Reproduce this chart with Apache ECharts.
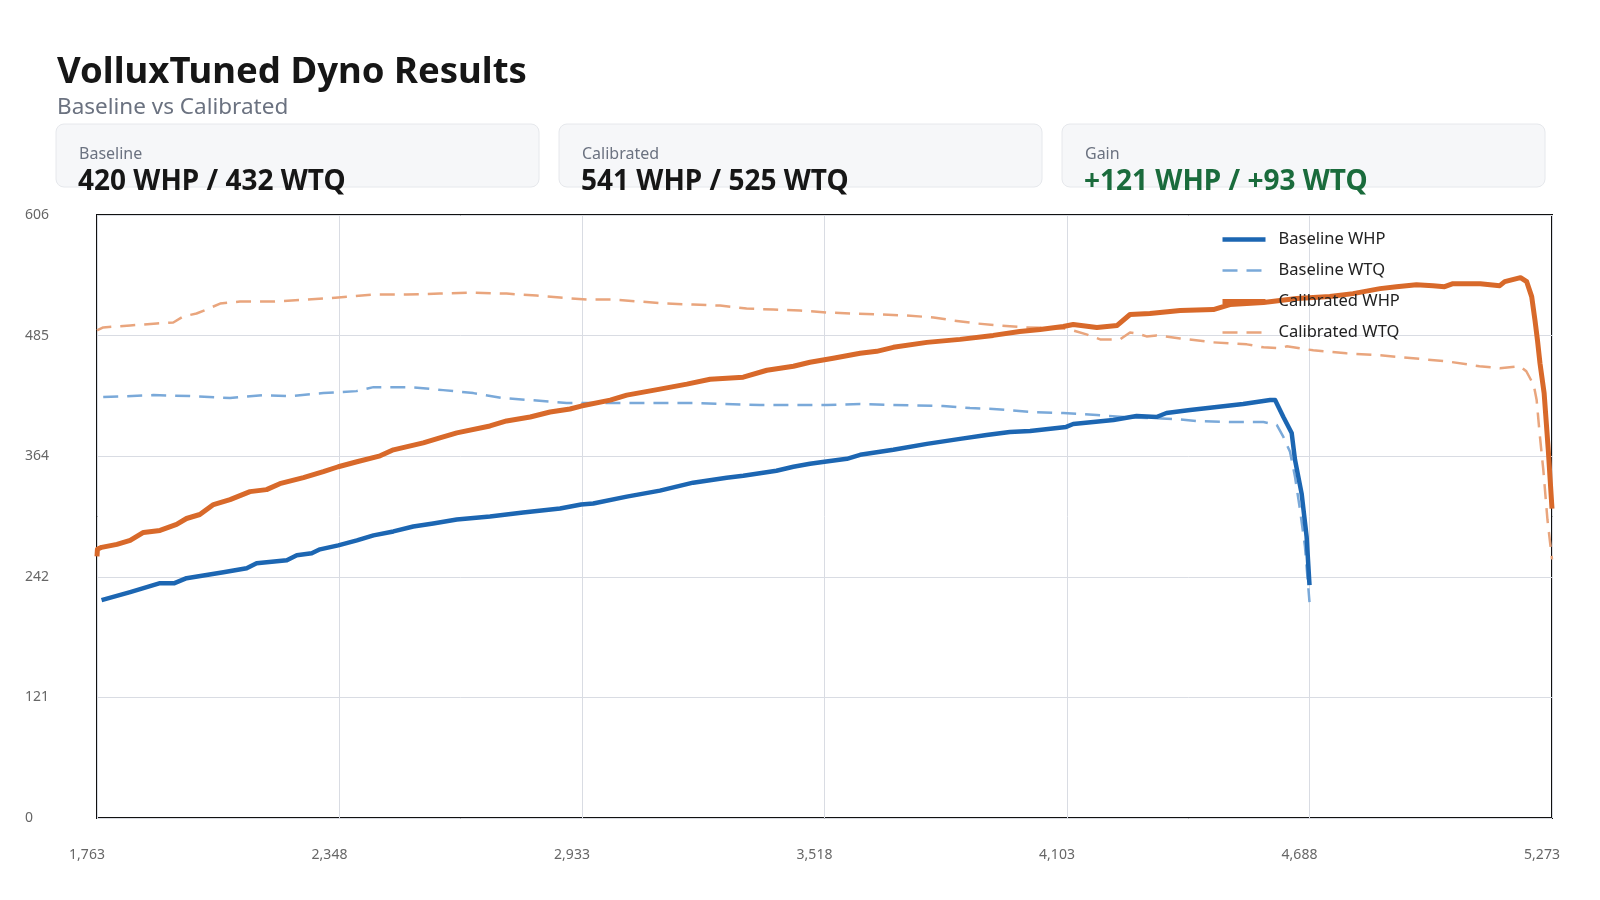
<!DOCTYPE html>
<html style="height: 100%">
    <head>
        <meta charset="utf-8">
    </head>
    <body style="height: 100%; margin: 0; background: #fff;">
        <div id="container" style="width: 1600px; height: 900px;"></div>
        <script src="https://cdn.jsdelivr.net/npm/echarts@6.0.0/dist/echarts.min.js"></script>
        <script>
        // dyno samples (rpm -> value)
        var baseWhpRpm = [1774, 1843, 1915, 1950, 1979, 2068, 2124, 2148, 2221, 2245, 2281, 2301, 2345, 2390, 2430, 2478, 2526, 2574, 2631, 2711, 2791, 2880, 2931, 2960, 3041, 3121, 3201, 3282, 3322, 3402, 3443, 3483, 3518, 3572, 3604, 3684, 3765, 3845, 3909, 3965, 4014, 4101, 4118, 4215, 4271, 4319, 4343, 4400, 4464, 4528, 4593, 4605, 4625, 4645, 4653, 4669, 4681, 4688];
        var baseWhp = [219, 227, 236, 236, 241, 247, 251, 256, 259, 264, 266, 270, 274, 279, 284, 288, 293, 296, 300, 303, 307, 311, 315, 316, 323, 329, 337, 342, 344, 349, 353, 356, 358, 361, 365, 370, 376, 381, 385, 388, 389, 393, 396, 400, 404, 403, 407, 410, 413, 416, 420, 420, 403, 387, 360, 326, 283, 234];

        var baseWtqRpm = [1778, 1899, 1987, 2084, 2164, 2229, 2309, 2389, 2430, 2510, 2550, 2598, 2671, 2743, 2808, 2896, 3041, 3201, 3362, 3524, 3604, 3684, 3804, 3869, 3925, 4022, 4094, 4175, 4239, 4295, 4360, 4416, 4496, 4577, 4609, 4625, 4641, 4653, 4665, 4677, 4688];
        var baseWtq = [423, 425, 424, 422, 425, 424, 427, 429, 433, 433, 432, 430, 427, 422, 420, 417, 417, 417, 415, 415, 416, 415, 414, 412, 411, 408, 407, 405, 403, 402, 401, 399, 398, 398, 395, 383, 368, 343, 310, 273, 217];

        var calWhpRpm = [1763, 1764, 1774, 1811, 1843, 1875, 1915, 1955, 1979, 2011, 2044, 2084, 2132, 2172, 2204, 2261, 2309, 2345, 2390, 2446, 2478, 2550, 2590, 2631, 2711, 2751, 2808, 2856, 2904, 2931, 3001, 3041, 3121, 3186, 3242, 3322, 3379, 3443, 3483, 3539, 3604, 3644, 3684, 3765, 3845, 3925, 3989, 4038, 4094, 4118, 4175, 4224, 4255, 4303, 4376, 4456, 4496, 4577, 4657, 4737, 4793, 4858, 4898, 4946, 4986, 5014, 5034, 5100, 5147, 5159, 5197, 5212, 5224, 5232, 5238, 5244, 5254, 5264, 5273];
        var calWhp = [263, 270, 272, 275, 279, 287, 289, 295, 301, 305, 315, 320, 328, 330, 336, 342, 348, 353, 358, 364, 370, 377, 382, 387, 394, 399, 403, 408, 411, 414, 420, 425, 431, 436, 441, 443, 450, 454, 458, 462, 467, 469, 473, 478, 481, 485, 489, 491, 494, 496, 493, 495, 506, 507, 510, 511, 516, 518, 522, 524, 527, 532, 534, 536, 535, 534, 537, 537, 535, 539, 543, 539, 524, 500, 480, 457, 427, 370, 311];

        var calWtqRpm = [1763, 1778, 1843, 1907, 1947, 1971, 2003, 2027, 2060, 2108, 2188, 2269, 2345, 2430, 2510, 2590, 2671, 2751, 2823, 2880, 2944, 3008, 3073, 3137, 3201, 3266, 3330, 3394, 3459, 3524, 3588, 3652, 3717, 3781, 3829, 3885, 3941, 4005, 4094, 4118, 4150, 4183, 4231, 4255, 4271, 4295, 4319, 4376, 4456, 4537, 4577, 4617, 4633, 4697, 4777, 4858, 4938, 5018, 5098, 5147, 5196, 5211, 5229, 5236, 5243, 5252, 5262, 5273];
        var calWtq = [490, 493, 495, 497, 498, 504, 507, 511, 517, 519, 519, 521, 523, 526, 526, 527, 528, 527, 525, 523, 521, 521, 519, 517, 516, 515, 512, 511, 510, 508, 507, 506, 505, 503, 500, 497, 495, 493, 492, 490, 486, 481, 481, 488, 487, 484, 485, 482, 478, 476, 473, 472, 474, 470, 467, 465, 462, 459, 454, 452, 454, 449, 435, 420, 387, 350, 300, 260];

        var xTicks = [1763, 2348, 2933, 3518, 4103, 4688, 5273];

        var seriesNames = ['Baseline WHP', 'Baseline WTQ', 'Calibrated WHP', 'Calibrated WTQ'];
        var cardLabels = ['Baseline', 'Calibrated', 'Gain'];
        var cardValues = ['420 WHP / 432 WTQ', '541 WHP / 525 WTQ', '+121 WHP / +93 WTQ'];

        var FONT = '"Noto Sans", sans-serif';
        var widths = [4.5, 2.5, 5, 2.5];

        function pairs(xs, ys) {
            return xs.map(function (x, i) { return [x, ys[i]]; });
        }

        function lineSeries(name, xs, ys, color, width, dashed) {
            return {
                name: name,
                type: 'line',
                data: pairs(xs, ys),
                showSymbol: false,
                symbol: 'none',
                lineStyle: {
                    color: color,
                    width: width,
                    type: dashed ? [15, 9] : 'solid',
                    join: 'round'
                },
                itemStyle: { color: color },
                z: dashed ? 2 : 3
            };
        }

        // header + stat cards
        var graphics = [{
            type: 'text', left: 57, top: 54,
            style: { text: 'VolluxTuned Dyno Results', font: 'bold 36.5px ' + FONT, fill: '#161616' }
        }, {
            type: 'text', left: 57, top: 96,
            style: { text: 'Baseline vs Calibrated', font: '22.5px ' + FONT, fill: '#6b7280' }
        }];
        var cardW = 483, cardGap = 20;
        cardLabels.forEach(function (lab, i) {
            var x0 = 56 + i * (cardW + cardGap);
            graphics.push({
                type: 'rect',
                shape: { x: x0, y: 124, width: cardW, height: 63, r: 8 },
                style: { fill: '#f6f7f9', stroke: '#e6e8ec', lineWidth: 1 }
            });
            graphics.push({
                type: 'text', x: x0 + 23, y: 154,
                style: { text: lab, font: '16px ' + FONT, fill: '#6b7280', verticalAlign: 'middle' }
            });
            graphics.push({
                type: 'text', x: x0 + 22, y: 182,
                style: {
                    text: cardValues[i], font: 'bold 28px ' + FONT,
                    fill: i === 2 ? '#1a6b3c' : '#161616', verticalAlign: 'middle'
                }
            });
        });

        var chart = echarts.init(document.getElementById('container'));
        var option = {
            animation: false,
            backgroundColor: '#fff',
            textStyle: { fontFamily: FONT },
            graphic: graphics,
            grid: {
                left: 97, right: 48, top: 215, bottom: 82,
                show: true, borderColor: '#111', borderWidth: 2, backgroundColor: 'transparent'
            },
            legend: {
                data: seriesNames.map(function (n, i) {
                    return { name: n, lineStyle: { width: widths[i] } };
                }),
                orient: 'vertical',
                left: 1215, top: 226,
                itemWidth: 43, itemHeight: 16, itemGap: 14,
                itemStyle: { opacity: 0 },
                textStyle: { fontSize: 16.5, color: '#222', fontFamily: FONT, padding: [0, 0, 0, 8] }
            },
            xAxis: {
                type: 'value',
                min: 1763, max: 5273,
                axisLine: { show: false },
                axisTick: { show: false, customValues: xTicks },
                axisLabel: {
                    customValues: xTicks,
                    margin: 30, fontSize: 14, color: '#666',
                    padding: [0, 20, 0, 0],
                    formatter: function (v) { return Math.round(v).toLocaleString('en-US'); }
                },
                splitLine: { show: true, lineStyle: { color: '#d9dce3', width: 1 } }
            },
            yAxis: {
                type: 'value',
                min: 0, max: 606, interval: 121.2,
                axisLine: { show: false },
                axisTick: { show: false },
                axisLabel: {
                    align: 'left', margin: 72, fontSize: 14, color: '#666',
                    padding: [3, 0, 0, 0],
                    formatter: function (v) { return Math.round(v); }
                },
                splitLine: { show: true, lineStyle: { color: '#d9dce3', width: 1 } }
            },
            series: [
                lineSeries(seriesNames[0], baseWhpRpm, baseWhp, '#1c66b2', widths[0], false),
                lineSeries(seriesNames[1], baseWtqRpm, baseWtq, '#7aa9d9', widths[1], true),
                lineSeries(seriesNames[2], calWhpRpm, calWhp, '#d8692a', widths[2], false),
                lineSeries(seriesNames[3], calWtqRpm, calWtq, '#e9a57d', widths[3], true)
            ]
        };
        chart.setOption(option);
        </script>
    </body>
</html>
